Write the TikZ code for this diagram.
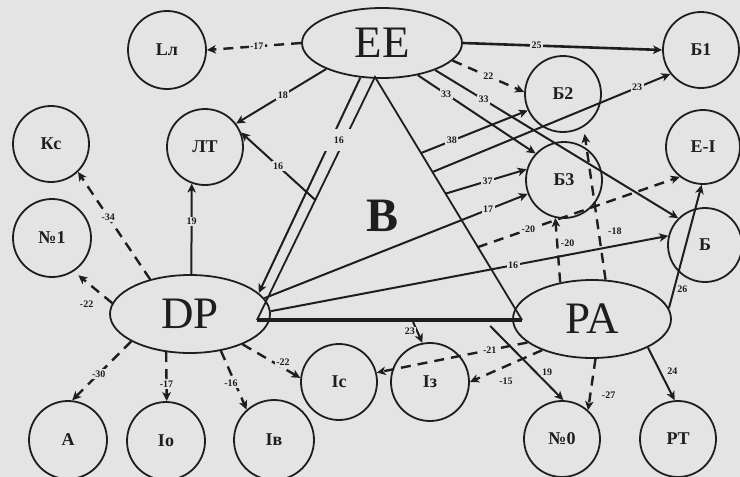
\documentclass[tikz,border=0pt]{standalone}
\usepackage{fontspec}
\setmainfont{Liberation Serif}
\usetikzlibrary{arrows.meta,shapes.geometric,calc}
\definecolor{bg}{RGB}{228,228,228}
\definecolor{ink}{RGB}{30,30,30}
\begin{document}
\begin{tikzpicture}[x=1pt,y=-1pt,
  circ/.style={circle,draw=ink,line width=1.8pt,minimum size=76pt,inner sep=0pt,
    font=\bfseries\fontsize{18}{18}\selectfont,text=ink},
  ell/.style={ellipse,draw=ink,line width=1.8pt,inner sep=0pt,
    font=\fontsize{45}{45}\selectfont,text=ink},
  conn/.style={draw=ink,line width=2pt,-{Stealth[length=9pt,width=8.5pt,inset=2.5pt]}},
  dconn/.style={conn,line width=2.4pt,dash pattern=on 10pt off 7pt},
  lbl/.style={fill=bg,inner sep=1.5pt,font=\bfseries\fontsize{10}{10}\selectfont,text=ink},
]
\fill[bg] (0,0) rectangle (740,477);
\useasboundingbox (0,0) rectangle (740,477);

% main nodes
\node[ell,minimum width=160pt,minimum height=70pt] (EE) at (382,43) {EE};
\node[ell,minimum width=160pt,minimum height=78pt] (DP) at (190,314) {DP};
\node[ell,minimum width=158pt,minimum height=78pt] (PA) at (592,319) {PA};

\node[circ,minimum size=78pt] (Ll) at (167,50) {Lл};
\node[circ] (B1) at (701,50) {Б1};
\node[circ] (B2) at (563,94) {Б2};
\node[circ] (Kc) at (51,144) {Кс};
\node[circ] (LT) at (205,147) {ЛТ};
\node[circ,minimum size=74pt] (EI) at (703,147) {Е-І};
\node[circ] (B3) at (564,180) {Б3};
\node[circ,minimum size=78pt] (N1) at (52,238) {№1};
\node[circ,minimum size=74pt] (BB) at (705,245) {Б};
\node[circ] (Ic) at (339,382) {Ic};
\node[circ,minimum size=78pt] (Iz) at (430,382) {Iз};
\node[circ,minimum size=78pt] (A) at (68,440) {A};
\node[circ,minimum size=78pt] (Io) at (166,441) {Io};
\node[circ,minimum size=80pt] (Iv) at (274,440) {Iв};
\node[circ] (N0) at (562,439) {№0};
\node[circ] (PT) at (678,439) {PT};

% triangle B
\coordinate (tA) at (375,77);
\coordinate (tL) at (257,320);
\coordinate (tR) at (522,320);
\draw[ink,line width=1.8pt] (tL) -- (tA) -- (tR);
\draw[ink,line width=3.4pt] (tL) -- (tR);
\node[font=\bfseries\fontsize{48}{48}\selectfont,text=ink] (Bt) at (383,216) {B};

\coordinate (s16) at ($(tA)!0.506!(tL)$);
\coordinate (s38) at ($(tA)!0.313!(tR)$);
\coordinate (s23) at ($(tA)!0.391!(tR)$);
\coordinate (s37) at ($(tA)!0.48!(tR)$);
\coordinate (s20) at ($(tA)!0.70!(tR)$);
\coordinate (s23b) at ($(tL)!0.589!(tR)+(0,2)$);
\coordinate (s19) at ($(tL)!0.88!(tR)+(0,6)$);

% edges from EE
\draw[dconn] (EE.west) -- node[lbl,pos=0.47]{-17} (Ll.east);
\draw[conn] (EE.205) -- node[lbl,pos=0.48]{18} (LT.37);
\draw[conn] (EE.238) -- node[lbl,pos=0.29,xshift=8pt,minimum width=30pt,minimum height=22pt]{16} (DP.17);
\draw[conn,line width=2.6pt] (EE.0) -- node[lbl,pos=0.37]{25} (B1.180);
\draw[dconn] (EE.-14) -- node[lbl,pos=0.5]{22} (B2.177);
\draw[conn] (EE.318) -- node[lbl,pos=0.24]{33} (B3.137);
\draw[conn] (EE.333) -- node[lbl,pos=0.2]{33} (BB.135);

% edges from triangle B
\draw[conn] (s16) -- node[lbl,pos=0.5]{16} (LT.22);
\draw[conn] (s38) -- node[lbl,pos=0.29]{38} (B2.205);
\draw[conn] (s23) -- node[lbl,pos=0.86]{23} (B1.218);
\draw[conn] (s37) -- node[lbl,pos=0.52]{37} (B3.164);
\draw[dconn] (s20) -- node[lbl,pos=0.25]{-20} (EI.232);
\draw[conn] (s23b) -- node[lbl,pos=0.45,anchor=east]{23} (Iz.101);
\draw[conn] (s19) -- node[lbl,pos=0.62,anchor=west,xshift=4pt]{19} (N0.88);

% edges from DP
\draw[conn] (DP.88) -- node[lbl,pos=0.58]{19} (LT.250);
\draw[dconn] (DP.139) -- node[lbl,pos=0.58]{-34} (Kc.314);
\draw[dconn,shorten >=6pt] (DP.172) -- node[lbl,pos=0.3,xshift=-14pt,yshift=-11pt]{-22} (N1.303);
\draw[dconn] (DP.205) -- node[lbl,pos=0.55]{-30} (A.84);
\draw[dconn] (DP.238) -- node[lbl,pos=0.66]{-17} (Io.89);
\draw[dconn] (DP.310) -- node[lbl,pos=0.55,xshift=-4pt]{-16} (Iv.132);
\draw[dconn] (DP.330) -- node[lbl,pos=0.7,yshift=6pt]{-22} (Ic.174);
\draw[conn] (DP.12) -- node[lbl,pos=0.85]{17} (B3.201);
\draw[conn] (DP.2) -- node[lbl,pos=0.61]{16} (BB.166);

% edges from PA
\draw[dconn] (PA.131) -- node[lbl,pos=0.6,anchor=west,xshift=1pt]{-20} (B3.257);
\draw[dconn,shorten >=7pt] (PA.71) -- node[lbl,pos=0.32,anchor=west,xshift=7pt]{-18} (B2.-58);
\draw[conn] (PA.8) -- node[lbl,pos=0.15,anchor=west,xshift=1pt]{26} (EI.268);
\draw[dconn] (PA.200) -- node[lbl,pos=0.25]{-21} (Ic.14);
\draw[dconn] (PA.212) -- node[lbl,pos=0.5,anchor=north,yshift=-9pt]{-15} (Iz.0);
\draw[dconn] (PA.275) -- node[lbl,pos=0.7,anchor=west,xshift=9pt]{-27} (N0.48);
\draw[conn] (PA.333) -- node[lbl,pos=0.45,anchor=west,xshift=5pt]{24} (PT.95);
\end{tikzpicture}
\end{document}
